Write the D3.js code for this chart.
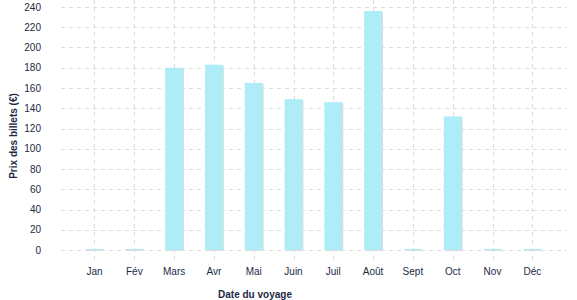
<!DOCTYPE html>
<html>
<head>
<meta charset="utf-8">
<script src="https://cdn.jsdelivr.net/npm/d3@7"></script>
<style>
  body { margin: 0; background: #fff; }
  text { font-family: "Liberation Sans", Arial, sans-serif; fill: #1d2a45; }
</style>
</head>
<body>
<div class="chart"></div>
<script>
var months = ["Jan", "Fév", "Mars", "Avr", "Mai", "Juin", "Juil", "Août", "Sept", "Oct", "Nov", "Déc"];
var prices = [0, 0, 180, 183, 165, 149, 146, 236, 0, 132, 0, 0];
var yTicks = [0, 20, 40, 60, 80, 100, 120, 140, 160, 180, 200, 220, 240];

var width = 577, height = 300;
var gridLeft = 61, gridRight = 567, plotTop = 7, plotBottom = 250;

var svg = d3.select(".chart")
  .append("svg")
    .attr("width", width)
    .attr("height", height);

var x = d3.scaleBand()
  .domain(months)
  .range([74.6, 552.2])
  .paddingInner(0.55)
  .paddingOuter(0.275);

var y = d3.scaleLinear()
  .domain([0, 240])
  .range([plotBottom, plotTop]);

// horizontal grid
svg.append("g")
  .selectAll("line")
  .data(yTicks)
  .enter().append("line")
    .attr("x1", gridLeft)
    .attr("x2", gridRight)
    .attr("y1", function(d){ return Math.round(y(d)) + 0.5; })
    .attr("y2", function(d){ return Math.round(y(d)) + 0.5; })
    .attr("stroke", "#dcdcdc")
    .attr("stroke-dasharray", "4,4");

// vertical grid
svg.append("g")
  .selectAll("line")
  .data(months)
  .enter().append("line")
    .attr("x1", function(d){ return Math.round(x(d) + x.bandwidth()/2) + 0.5; })
    .attr("x2", function(d){ return Math.round(x(d) + x.bandwidth()/2) + 0.5; })
    .attr("y1", 0)
    .attr("y2", 262)
    .attr("stroke", "#dcdcdc")
    .attr("stroke-dasharray", "4,4");

// bar shadows
svg.append("g")
  .selectAll("rect")
  .data(prices)
  .enter().append("rect")
    .attr("x", function(d, i){ return x(months[i]) + 1; })
    .attr("y", function(d){ return Math.min(y(d), plotBottom - 1) + 1; })
    .attr("width", x.bandwidth())
    .attr("height", function(d){ return Math.max(plotBottom - y(d), 1); })
    .attr("fill", "#dddddd");

// bars
svg.append("g")
  .selectAll("rect")
  .data(prices)
  .enter().append("rect")
    .attr("x", function(d, i){ return x(months[i]); })
    .attr("y", function(d){ return Math.min(y(d), plotBottom - 1); })
    .attr("width", x.bandwidth())
    .attr("height", function(d){ return Math.max(plotBottom - y(d), 1); })
    .attr("fill", "#aeedf8");

// y axis labels
var yAxis = d3.axisLeft(y).tickValues(yTicks).tickSize(0).tickPadding(0);
svg.append("g")
  .attr("transform", "translate(41,0)")
  .call(yAxis)
  .call(function(g){ g.select(".domain").remove(); })
  .selectAll("text")
    .attr("font-size", 10)
    .attr("font-family", "Liberation Sans, Arial, sans-serif")
    .attr("fill", "#1d2a45");

// x axis labels
var xAxis = d3.axisBottom(x).tickSize(0).tickPadding(0);
svg.append("g")
  .attr("transform", "translate(0,268)")
  .call(xAxis)
  .call(function(g){ g.select(".domain").remove(); })
  .selectAll("text")
    .attr("font-size", 10)
    .attr("font-family", "Liberation Sans, Arial, sans-serif")
    .attr("fill", "#1d2a45");

// axis titles
svg.append("text")
  .attr("x", 255)
  .attr("y", 298)
  .attr("text-anchor", "middle")
  .attr("font-size", 10)
  .attr("font-weight", "bold")
  .text("Date du voyage");

svg.append("text")
  .attr("transform", "translate(17,136) rotate(-90)")
  .attr("text-anchor", "middle")
  .attr("font-size", 10)
  .attr("font-weight", "bold")
  .text("Prix des billets (€)");
</script>
</body>
</html>
